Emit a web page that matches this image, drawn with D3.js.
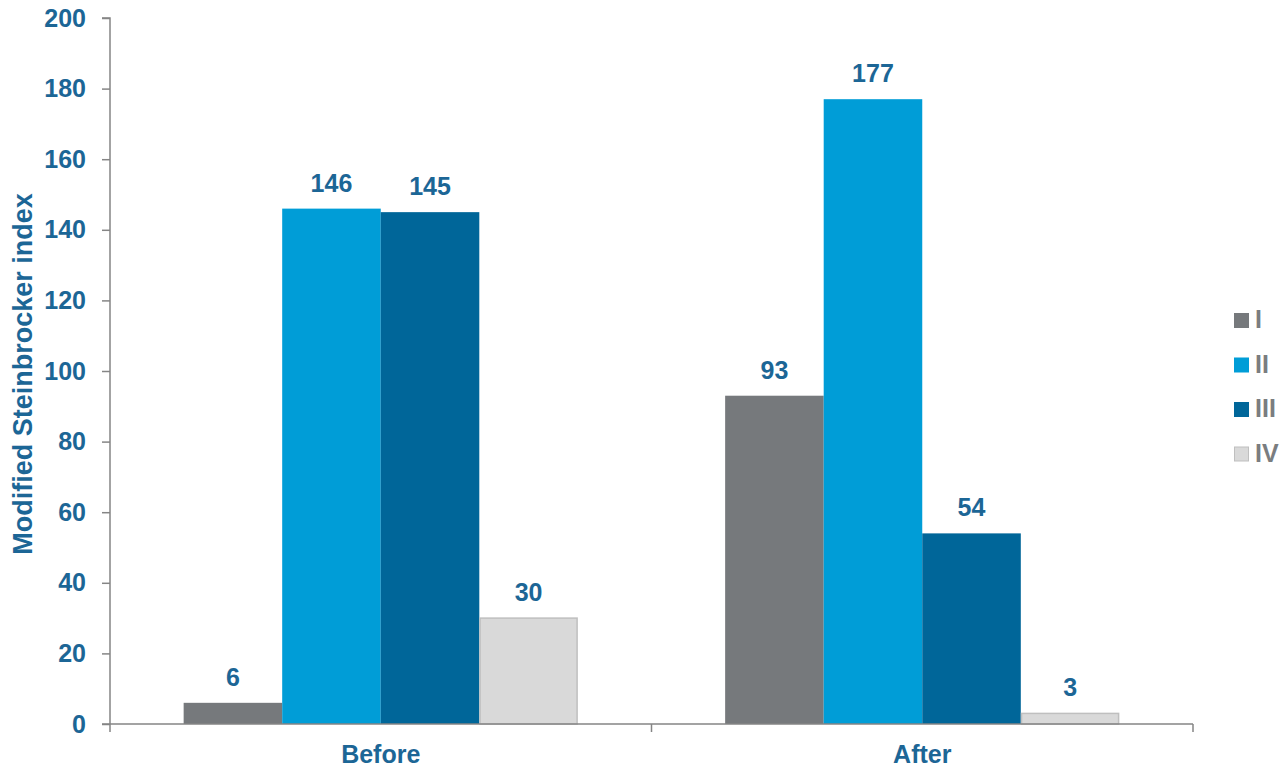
<!DOCTYPE html>
<html>
<head>
<meta charset="utf-8">
<script src="https://cdn.jsdelivr.net/npm/d3@7"></script>
<style>
  html, body { margin: 0; padding: 0; background: #fff; }
  svg text { font-family: "Liberation Sans", Arial, sans-serif; font-weight: bold; }
</style>
</head>
<body>
<svg id="chart" width="1287" height="772"></svg>
<script>
// Steinbrocker class counts before and after treatment
const categories = ["Before", "After"];
const seriesNames = ["I", "II", "III", "IV"];
const valuesI = [6, 93];
const valuesII = [146, 177];
const valuesIII = [145, 54];
const valuesIV = [30, 3];
const yTicks = [0, 20, 40, 60, 80, 100, 120, 140, 160, 180, 200];

const seriesValues = [valuesI, valuesII, valuesIII, valuesIV];
const colors = ["#76797c", "#009dd7", "#006699", "#d9d9d9"];
const strokes = ["none", "none", "none", "#bfbfbf"];
const labelColor = "#1c6696";
const axisColor = "#858585";

const svg = d3.select("#chart");
const margin = { left: 110, right: 94, top: 18, bottom: 48 };
const width = 1287, height = 772;
const x0 = margin.left, x1 = width - margin.right;
const y0 = height - margin.bottom, y1 = margin.top;

const x = d3.scaleBand().domain(categories).range([x0, x1])
  .paddingInner(0.272).paddingOuter(0.136);
const xSub = d3.scaleBand().domain(seriesNames).range([0, x.bandwidth()]);
const y = d3.scaleLinear().domain([0, 200]).range([y0, y1]);

// bars
categories.forEach((cat, ci) => {
  seriesNames.forEach((s, si) => {
    const v = seriesValues[si][ci];
    svg.append("rect")
      .attr("x", x(cat) + xSub(s) + (strokes[si] !== "none" ? 0.75 : 0))
      .attr("y", y(v))
      .attr("width", xSub.bandwidth() - (strokes[si] !== "none" ? 1.5 : 0))
      .attr("height", y0 - y(v))
      .attr("fill", colors[si])
      .attr("stroke", strokes[si])
      .attr("stroke-width", 1.5);
    svg.append("text")
      .attr("x", x(cat) + xSub(s) + xSub.bandwidth() / 2)
      .attr("y", y(v) - 17)
      .attr("text-anchor", "middle")
      .attr("font-size", 25)
      .attr("fill", labelColor)
      .text(v);
  });
});

// y axis
const yAxis = svg.append("g").attr("transform", `translate(${x0},0)`)
  .call(d3.axisLeft(y).tickValues(yTicks).tickSize(8).tickPadding(16));
yAxis.select(".domain").attr("stroke", axisColor).attr("stroke-width", 1.5)
  .attr("d", `M-8,${y1}H0V${y0}`);
yAxis.selectAll(".tick line").attr("stroke", axisColor).attr("stroke-width", 1.5);
yAxis.selectAll(".tick text").attr("font-size", 25).attr("fill", labelColor)
  .attr("font-family", "Liberation Sans, Arial, sans-serif").attr("font-weight", "bold");

// x axis with boundary ticks between categories
const xAxis = svg.append("g");
xAxis.append("line").attr("x1", x0 - 8).attr("x2", x1).attr("y1", y0).attr("y2", y0)
  .attr("stroke", axisColor).attr("stroke-width", 1.5);
const bounds = [x0, x(categories[1]) - x.step() * x.paddingInner() / 2, x1];
bounds.forEach(b => {
  xAxis.append("line").attr("x1", b).attr("x2", b).attr("y1", y0).attr("y2", y0 + 8)
    .attr("stroke", axisColor).attr("stroke-width", 1.5);
});
categories.forEach(cat => {
  xAxis.append("text")
    .attr("x", x(cat) + x.bandwidth() / 2)
    .attr("y", y0 + 39)
    .attr("text-anchor", "middle")
    .attr("font-size", 25)
    .attr("fill", labelColor)
    .text(cat);
});

// y axis title
svg.append("text")
  .attr("transform", `translate(32,374) rotate(-90)`)
  .attr("text-anchor", "middle")
  .attr("font-size", 27)
  .attr("fill", labelColor)
  .text("Modified Steinbrocker index");

// legend
const legend = svg.append("g").attr("transform", "translate(1234,313)");
seriesNames.forEach((s, i) => {
  const g = legend.append("g").attr("transform", `translate(0,${i * 44.5})`);
  g.append("rect").attr("x", 0.5).attr("y", 0.5).attr("width", 14).attr("height", 14)
    .attr("fill", colors[i])
    .attr("stroke", strokes[i] === "none" ? colors[i] : strokes[i])
    .attr("stroke-width", 1);
  g.append("text").attr("x", 21).attr("y", 15)
    .attr("font-size", 25).attr("fill", "#7a7d80").text(s);
});
</script>
</body>
</html>
